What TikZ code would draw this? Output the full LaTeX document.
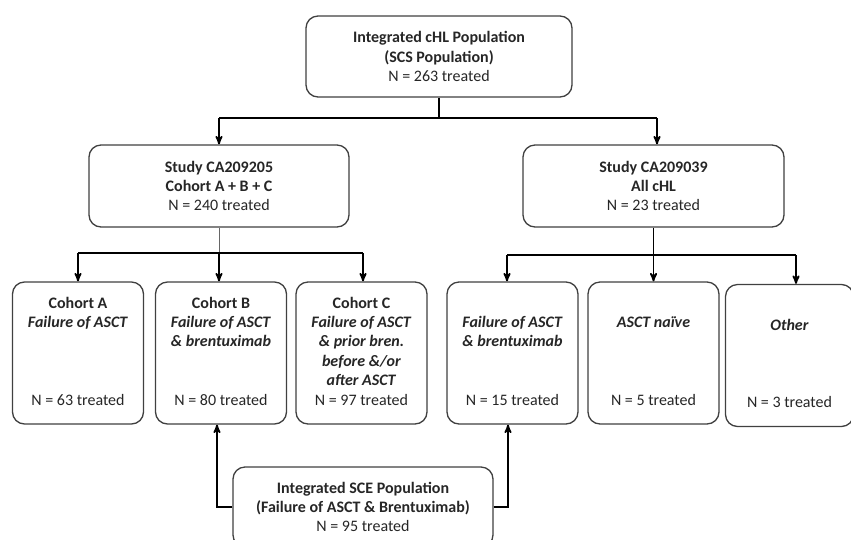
\documentclass[tikz,border=0pt]{standalone}
\usepackage{fontspec}
\setmainfont{Carlito}
\usepackage{tikz}
\usetikzlibrary{arrows}

\tikzset{
  popbox/.style={draw=black!75, line width=1.3pt, rounded corners=12pt, fill=white,
    align=center, inner sep=0pt, text=black!85},
  grpbox/.style={popbox, minimum width=131pt, minimum height=142pt},
  conn/.style={line width=1.8pt},
  arr/.style={conn, ->, >=stealth'},
}
\newcommand{\grptext}[2]{\parbox[c][116pt][t]{128pt}{\centering\strut#1\par\vfill\strut#2\strut}}

\begin{document}
\begin{tikzpicture}[x=1pt,y=-1pt,font=\fontsize{16}{19.2}\selectfont]
        \path[use as bounding box,clip] (0,0) rectangle (851,539);
        \node[popbox,minimum width=266pt,minimum height=81pt] (top) at (439,56.5)
          {\textbf{Integrated cHL Population}\\\textbf{(SCS Population)}\\N = 263 treated};
        \node[popbox,minimum width=260pt,minimum height=82pt] (s205) at (219,186)
          {\textbf{Study CA209205}\\\textbf{Cohort A + B + C}\\N = 240 treated};
        \node[popbox,minimum width=261pt,minimum height=82pt] (s039) at (653.5,186)
          {\textbf{Study CA209039}\\\textbf{All cHL}\\N = 23 treated};
        % cohorts of the two studies
        \foreach \name/\x/\head/\n in {%
          coA/78/{\textbf{Cohort A}\\\textbf{\textit{Failure of ASCT}}}/63,
          coB/221/{\textbf{Cohort B}\\\textbf{\textit{Failure of ASCT}}\\\textbf{\textit{\& brentuximab}}}/80,
          coC/361.5/{\textbf{Cohort C}\\\textbf{\textit{Failure of ASCT}}\\\textbf{\textit{\& prior bren.}}\\\textbf{\textit{before \&/or}}\\\textbf{\textit{after ASCT}}}/97,
          coF/512.5/{\mbox{}\\\textbf{\textit{Failure of ASCT}}\\\textbf{\textit{\& brentuximab}}}/15,
          coN/653.5/{\mbox{}\\\textbf{\textit{ASCT naïve}}}/5} {
            \node[grpbox] (\name) at (\x,353) {\grptext{\head}{N = \n\ treated}};
        }
        \node[grpbox,minimum width=121pt] (coO) at (789.5,355.5)
          {\grptext{\mbox{}\\\textbf{\textit{Other}}}{N = 3 treated}};
        \node[popbox,minimum width=260pt,minimum height=80pt] (sce) at (363,507)
          {\textbf{Integrated SCE Population}\\\textbf{(Failure of ASCT \& Brentuximab)}\\N = 95 treated};
        % connectors
        \coordinate (t1) at (219,118);
        \coordinate (t2) at (657,118);
        \draw[conn] (top.south) |- (t1) (top.south) |- (t2);
        \draw[arr] (t1) -- (s205.north);
        \draw[arr] (t2) -- (t2 |- s039.north);
        \coordinate (u1) at (78,253);
        \coordinate (u2) at (363,253);
        \draw[line width=1pt,black!60] (s205.south) -- (s205.south |- u1);
        \draw[conn] (u1) -- (u2);
        \draw[arr] (u1) -- (coA.north);
        \draw[arr] (s205.south |- u1) -- (s205.south |- coB.north);
        \draw[arr] (u2) -- (u2 |- coC.north);
        \coordinate (v1) at (507,255);
        \coordinate (v2) at (796,255);
        \draw[conn] (s039.south) -- (s039.south |- v1);
        \draw[conn] (v1) -- (v2);
        \draw[arr] (v1) -- (v1 |- coF.north);
        \draw[arr] (s039.south |- v1) -- (s039.south |- coN.north);
        \draw[arr] (v2) -- (v2 |- coO.north);
        \draw[arr] (sce.west) -| ([xshift=-4pt]coB.south);
        \draw[arr] (sce.east) -| ([xshift=-4.5pt]coF.south);
      \end{tikzpicture}
\end{document}
